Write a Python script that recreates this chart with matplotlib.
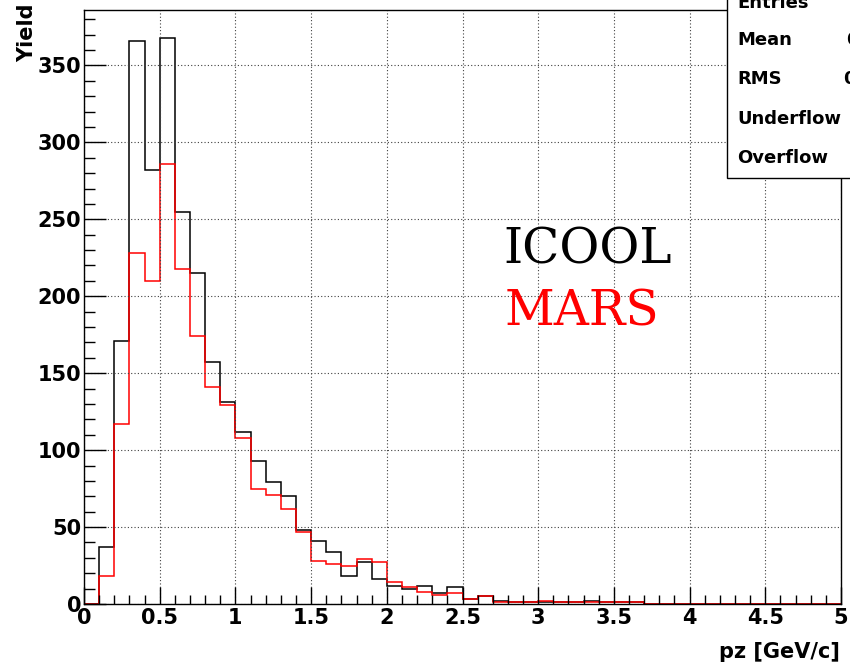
import numpy as np
import matplotlib.pyplot as plt
from matplotlib.patches import Rectangle
from matplotlib.ticker import MultipleLocator

# -------- DATA (bin width 0.1 GeV/c, 0..5) --------
BIN_EDGES = np.round(np.arange(0, 5.01, 0.1), 2)
ICOOL = [0, 37, 171, 366, 282, 368, 255, 215, 157, 131,
         112, 93, 79, 70, 48, 41, 34, 18, 27, 16,
         12, 10, 12, 7, 11, 3, 5, 2, 1, 1,
         1, 1, 1, 2, 1, 1, 1, 0, 0, 0,
         0, 0, 0, 0, 0, 0, 0, 0, 0, 0]
MARS = [0, 18, 117, 228, 210, 286, 218, 174, 141, 129,
        108, 75, 71, 62, 47, 28, 26, 25, 29, 27,
        14, 11, 8, 6, 7, 3, 5, 1, 1, 1,
        2, 1, 1, 1, 1, 1, 1, 0, 0, 0,
        0, 0, 0, 0, 0, 0, 0, 0, 0, 0]
STAT_LABELS = ["Entries", "Mean", "RMS", "Underflow", "Overflow"]
STAT_VALUES = ["2434", "0.7", "0.4", "0", "0"]
# ---------------------------------------------------

W, H = 850, 667
fig = plt.figure(figsize=(W / 100, H / 100), dpi=100)
ax = fig.add_axes([84 / W, 1 - 604 / H, (841 - 84) / W, (604 - 10) / H])

ax.stairs(ICOOL, BIN_EDGES, baseline=0, color="black", lw=1.1)
ax.stairs(MARS, BIN_EDGES, baseline=0, color="red", lw=1.1)

ax.set_xlim(0, 5)
ax.set_ylim(0, 386)

ax.xaxis.set_major_locator(MultipleLocator(0.5))
ax.xaxis.set_minor_locator(MultipleLocator(0.1))
ax.yaxis.set_major_locator(MultipleLocator(50))
ax.yaxis.set_minor_locator(MultipleLocator(10))
ax.set_xticklabels([])
xt = np.arange(0, 5.01, 0.5)
ax.set_xticks(xt)
ax.set_xticklabels(["%g" % v for v in xt])

ax.tick_params(axis="both", which="both", direction="in", top=False, right=False,
               width=1.0, labelsize=15)
ax.tick_params(axis="x", which="major", length=12, pad=3)
ax.tick_params(axis="x", which="minor", length=6.5)
ax.tick_params(axis="y", which="major", length=16, pad=2)
ax.tick_params(axis="y", which="minor", length=8)
for lab in ax.get_xticklabels() + ax.get_yticklabels():
    lab.set_fontweight("bold")

ax.grid(True, which="major", color="0.25", linestyle=(0, (1, 2)), lw=0.8)
for sp in ax.spines.values():
    sp.set_linewidth(1.0)

# axis titles
fig.text(27 / W, 1 - 4 / H, "Yield", rotation=90, ha="center", va="top",
         fontsize=15, fontweight="bold")
fig.text(840 / W, 1 - 652 / H, "pz [GeV/c]", ha="right", va="center",
         fontsize=15, fontweight="bold")

# legend-like labels
fig.text(503 / W, 1 - 250 / H, "ICOOL", color="black", fontsize=35,
         family="DejaVu Serif", va="center", ha="left")
fig.text(505 / W, 1 - 312 / H, "MARS", color="red", fontsize=35,
         family="DejaVu Serif", va="center", ha="left")

# stats box, running off the figure edge
box = Rectangle((727 / W, 1 - 178 / H), 0.3, 0.3, transform=fig.transFigure,
                facecolor="white", edgecolor="black", lw=1.0, zorder=5)
fig.patches.append(box)
ys = [3, 40, 79, 119, 158]
vx = [900, 846, 843, 900, 900]
for lab, val, y, x in zip(STAT_LABELS, STAT_VALUES, ys, vx):
    fig.text(737 / W, 1 - y / H, lab, fontsize=13, fontweight="bold",
             va="center", ha="left", zorder=6)
    fig.text(x / W, 1 - y / H, val, fontsize=13, fontweight="bold",
             va="center", ha="left", zorder=6)

fig.savefig("out.png", dpi=100)
